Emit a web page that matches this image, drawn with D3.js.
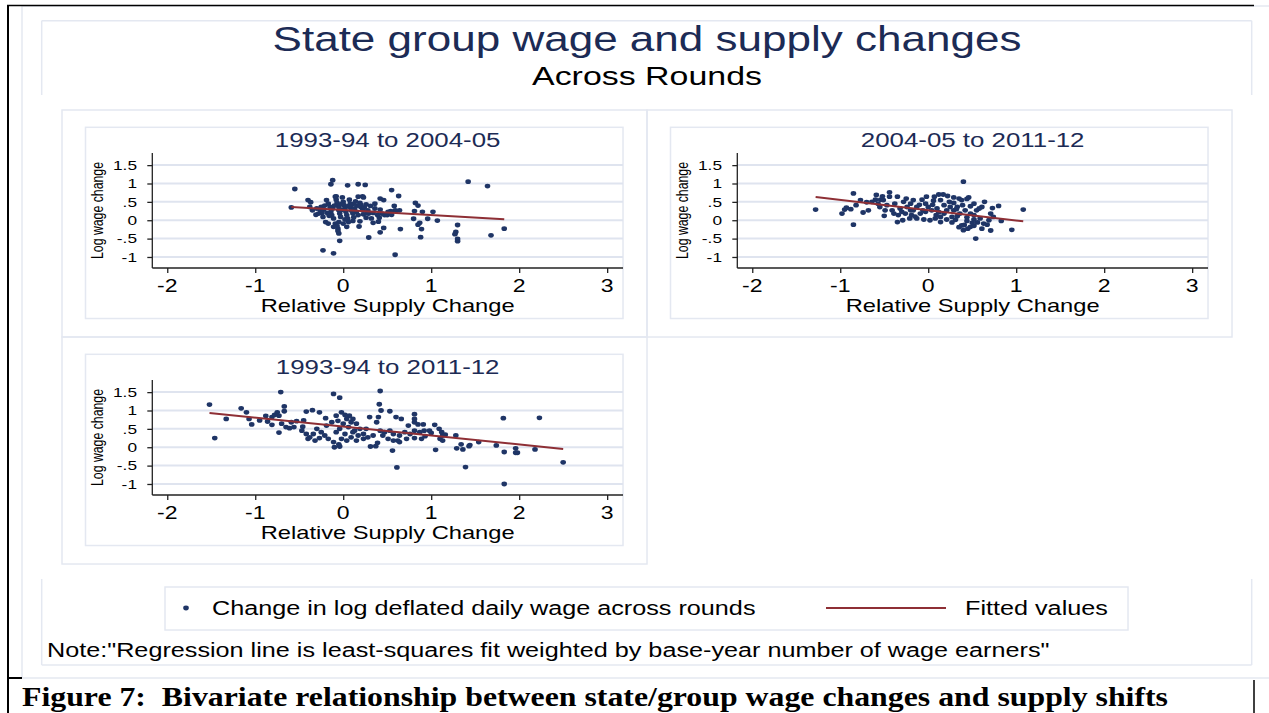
<!DOCTYPE html>
<html>
<head>
<meta charset="utf-8">
<script src="https://cdn.jsdelivr.net/npm/d3@7"></script>
<style>
  body { margin: 0; background: #fff; }
  svg { display: block; font-family: "Liberation Sans", Arial, sans-serif; }
</style>
</head>
<body>
<div id="chart"></div>
<script>
// data: [relative supply change, log wage change]
var panelTitles = ['1993-94 to 2004-05', '2004-05 to 2011-12', '1993-94 to 2011-12'];

var points9305 = [
  [-0.55,0.85],[-0.59,0.35],[-0.12,1.09],[-0.14,0.98],[0.05,0.95],[0.17,0.98],[0.25,0.96],[1.42,1.05],
  [1.64,0.93],[0.55,0.82],[0.63,0.66],[0.42,0.59],[0.46,0.55],[0.22,0.65],[0.23,0.62],[-0.40,0.55],
  [-0.37,0.49],[0.82,0.47],[0.85,0.40],[0.58,0.39],[0.59,0.27],[0.64,0.27],[0.81,0.25],[0.90,0.23],
  [1.02,0.23],[0.80,0.04],[0.96,0.04],[1.07,-0.01],[0.87,-0.07],[0.85,-0.12],[0.89,-0.24],[0.88,-0.46],
  [1.30,-0.13],[1.28,-0.32],[1.27,-0.38],[1.30,-0.51],[1.30,-0.57],[1.68,-0.41],[1.83,-0.23],[0.65,-0.24],
  [0.59,-0.94],[0.46,-0.21],[0.42,-0.33],[0.29,-0.47],[0.18,-0.17],[-0.04,-0.56],[-0.23,-0.82],[-0.11,-0.90],
  [-0.06,-0.29],[-0.06,-0.23],[-0.17,-0.09],[-0.31,0.15],[0.11,-0.02],[0.34,-0.07],[0.40,-0.04],[0.41,0.07],
  [0.32,0.05],[0.50,0.14],[0.55,0.15],[0.44,0.18],[0.36,0.32],[0.31,0.39],[0.42,0.29],[0.54,0.25],
  [0.60,0.25],[0.19,0.47],[0.14,0.51],[0.11,0.44],[0.26,0.43],[-0.25,0.36],[-0.22,0.29],[-0.19,0.55],
  [-0.17,0.45],[-0.15,0.36],[-0.14,0.23],[-0.13,0.14],[-0.11,0.05],[-0.09,0.64],[-0.08,0.56],[-0.07,0.47],
  [-0.05,0.36],[-0.05,0.27],[-0.04,0.18],[-0.03,0.09],[-0.05,-0.05],[-0.01,0.62],[0.00,0.50],[0.01,0.41],
  [0.02,0.32],[0.03,0.23],[0.04,0.14],[0.05,0.05],[0.07,0.56],[0.08,0.36],[0.09,0.27],[0.11,0.18],
  [0.13,0.32],[0.15,0.23],[0.17,0.14],[0.20,0.36],[0.22,0.27],[0.23,0.16],[0.26,0.07],[0.28,0.27],
  [0.29,0.18],[-0.26,0.27],[-0.24,0.20],[-0.30,0.32],[-0.35,0.27],[-0.38,0.36],[-0.20,-0.05],[-0.09,-0.09],
  [0.00,-0.09],[0.06,-0.05],[-0.07,-0.16],[0.19,-0.03],[0.17,0.64],[0.08,0.45],[-0.08,0.65],[0.34,0.20],
  [0.39,0.14],[0.20,0.42],[0.47,0.14],[0.51,0.23],[0.36,0.45],[-0.23,0.09],[-0.28,0.18],[0.04,-0.18],
  [-0.05,-0.36],[-0.11,-0.18],[-0.02,0.44],[0.12,0.08],[-0.12,0.32],[0.24,0.35],[-0.18,0.20],[0.06,0.38],
  [-0.16,0.12],[-0.02,0.28],[0.10,0.26],[-0.10,0.40],[0.16,0.40],[0.27,0.20],[-0.21,0.40],[0.02,0.02]
];

var points0512 = [
  [-1.28,0.29],[-0.85,0.73],[-0.85,-0.12],[-0.98,0.18],[-0.95,0.29],[-0.93,0.34],[-0.88,0.30],[-0.82,0.41],
  [-0.77,0.55],[-0.70,0.49],[-0.74,0.21],[-0.68,0.27],[-0.59,0.69],[-0.54,0.56],[-0.44,0.76],[-0.44,0.64],
  [-0.35,0.64],[-0.50,0.12],[-0.35,-0.05],[-0.29,0.00],[-0.21,0.05],[0.40,1.05],[0.07,0.64],[0.12,0.70],
  [0.17,0.70],[0.22,0.66],[0.29,0.62],[0.46,0.62],[0.44,0.58],[0.64,0.50],[0.80,0.39],[0.73,0.33],
  [0.71,0.18],[0.83,-0.02],[1.08,0.29],[0.95,-0.26],[0.71,-0.28],[0.67,-0.12],[0.54,-0.50],[0.40,-0.27],
  [0.35,-0.19],[0.41,-0.13],[0.48,-0.18],[0.52,-0.15],[0.56,-0.06],[0.27,-0.06],[0.31,0.01],[0.59,0.05],
  [0.52,0.14],[0.55,0.27],[0.61,0.36],[0.52,0.45],[0.48,0.38],[0.42,0.27],[0.36,0.18],[0.33,0.11],
  [0.29,0.47],[0.25,0.36],[0.21,0.27],[0.18,0.18],[0.14,0.09],[0.09,0.14],[0.04,0.27],[0.00,0.36],
  [-0.03,0.45],[-0.06,0.27],[-0.09,0.18],[-0.13,0.36],[-0.17,0.27],[-0.20,0.45],[-0.24,0.36],[-0.28,0.50],
  [-0.32,0.32],[-0.38,0.45],[-0.41,0.27],[-0.47,0.41],[-0.51,0.55],[-0.57,0.45],[-0.60,0.56],[-0.64,0.50],
  [-0.39,0.18],[-0.34,0.14],[-0.26,0.18],[-0.19,0.14],[-0.13,0.05],[-0.05,0.02],[0.02,0.00],[0.08,0.05],
  [0.14,-0.05],[0.21,0.02],[0.27,0.09],[0.44,-0.02],[0.50,-0.07],[0.63,-0.09],[0.69,0.00],[0.74,0.09],
  [0.35,0.59],[0.38,0.55],[0.06,0.53],[0.14,0.55],[-0.07,0.56],[-0.17,0.55],[-0.25,0.59],[-0.52,0.65],
  [-0.02,0.64],[0.29,0.27],[0.33,0.36],[0.39,0.41],[0.18,0.41],[0.10,0.32],[-0.03,0.23],[-0.20,0.27],
  [-0.30,0.23],[-0.49,0.27],[-0.55,0.36],[0.48,0.18],[0.52,0.02],[0.38,-0.14],[0.61,-0.23],[0.45,-0.23],
  [0.05,0.42],[0.24,0.50],[-0.10,0.42],[0.32,0.30],[0.12,0.22],[-0.15,0.10],[0.58,0.32],[0.44,0.08]
];

var points9312 = [
  [-1.52,1.16],[-1.46,0.25],[-1.33,0.77],[-1.16,1.06],[-1.10,0.95],[-1.07,0.77],[-1.04,0.62],[-0.88,0.85],
  [-0.86,0.70],[-0.81,0.82],[-0.78,0.88],[-0.75,0.95],[-0.73,0.86],[-0.71,1.50],[-0.67,1.11],[-0.67,0.98],
  [-0.70,0.64],[-0.73,0.40],[-0.61,0.52],[-0.59,0.68],[-0.56,0.55],[-0.53,0.71],[-0.45,0.73],[-0.46,0.56],
  [-0.42,0.97],[-0.35,1.01],[-0.27,0.95],[-0.20,0.79],[-0.11,1.45],[-0.04,1.35],[0.42,1.53],[0.41,1.17],
  [0.43,1.00],[0.53,0.98],[0.60,0.82],[0.66,0.77],[0.81,0.90],[0.81,0.77],[0.81,0.68],[1.82,0.79],
  [2.23,0.80],[2.50,-0.41],[1.83,-0.13],[1.96,-0.03],[1.96,-0.15],[1.98,-0.15],[2.18,-0.06],[1.74,0.05],
  [1.54,0.14],[1.44,0.06],[1.43,0.03],[1.36,-0.06],[1.34,0.08],[1.29,-0.03],[1.28,0.32],[1.39,-0.54],
  [1.83,-1.00],[0.61,-0.55],[0.56,-0.09],[1.05,-0.07],[1.04,0.61],[1.09,0.50],[1.12,0.41],[1.13,0.32],
  [1.16,0.34],[1.10,0.23],[1.13,0.18],[0.92,0.45],[0.98,0.45],[1.00,0.39],[0.91,0.62],[0.85,0.62],
  [0.81,0.45],[0.81,0.25],[0.76,0.36],[0.70,0.41],[0.64,0.32],[0.62,0.18],[0.64,0.14],[0.57,0.36],
  [0.53,0.45],[0.47,0.41],[0.42,0.45],[0.38,0.68],[0.30,0.82],[0.31,0.02],[0.37,0.03],[0.39,0.12],
  [0.34,0.32],[0.28,0.27],[0.23,0.36],[0.19,0.50],[0.15,0.64],[0.11,0.77],[0.07,0.86],[0.09,0.68],
  [0.04,0.77],[0.00,0.64],[-0.04,0.50],[-0.08,0.41],[-0.10,0.00],[-0.04,0.02],[-0.05,0.08],[-0.11,0.14],
  [-0.17,0.23],[-0.21,0.32],[-0.25,0.41],[-0.30,0.50],[-0.34,0.36],[-0.38,0.27],[-0.32,0.18],[-0.27,0.25],
  [-0.19,0.59],[-0.13,0.68],[-0.08,0.86],[-0.02,0.95],[0.02,0.88],[0.06,0.55],[0.11,0.41],[0.17,0.32],
  [0.02,0.36],[-0.02,0.23],[0.04,0.18],[0.09,0.27],[0.15,0.18],[0.23,0.23],[0.26,0.50],[-0.42,0.36],
  [-0.47,0.45],[-0.40,0.23],[-0.65,0.55],[-0.81,0.61],[-0.95,0.73],[0.74,0.59],[0.72,0.23],[0.87,0.41],
  [0.93,0.30],[0.89,0.23],[0.45,0.32],[0.51,0.23],[0.57,0.18],[0.40,0.82],[0.13,0.45],[-0.06,0.72]
];

// fitted values, end points
var fit9305 = [[-0.59, 0.36], [1.83, 0.03]];
var fit0512 = [[-1.28, 0.63], [1.08, -0.03]];
var fit9312 = [[-1.52, 0.93], [2.50, -0.045]];

var xTicks = [-2, -1, 0, 1, 2, 3];
var yTicks = [1.5, 1, 0.5, 0, -0.5, -1];
var yTickLabels = ['1.5', '1', '.5', '0', '-.5', '-1'];

var mainTitle = 'State group wage and supply changes';
var subTitle = 'Across Rounds';
var xLabel = 'Relative Supply Change';
var yLabel = 'Log wage change';
var legendLabels = ['Change in log deflated daily wage across rounds', 'Fitted values'];
var noteText = 'Note:"Regression line is least-squares fit weighted by base-year number of wage earners"';
var captionText = 'Figure 7:\u00a0 Bivariate relationship between state/group wage changes and supply shifts';

var panelPoints = [points9305, points0512, points9312];
var panelFits = [fit9305, fit0512, fit9312];

// ---- layout ----
var width = 1269, height = 713;
var SX = 1.28;                 // the picture is stretched horizontally
var navy = '#1f3566', maroon = '#8e2f35', faint = '#e4e8f1', grid = '#dfe4ef';
var cellOrigins = [[62, 110], [647, 110], [62, 337]];
var cell = {w: 585, h: 227};
var inner = {x0: 23.5, x1: 561, y0: 17.3, y1: 208.5};
var plot = {x0: 90.3, x1: 561, y0: 43, y1: 158};

var svg = d3.select('#chart').append('svg')
    .attr('width', width)
    .attr('height', height);

function stext(g, x, y, str, size, anchor, color) {
    return g.append('text')
        .attr('transform', 'translate(' + x + ',' + y + ') scale(' + SX + ',1)')
        .attr('text-anchor', anchor)
        .attr('font-size', size)
        .attr('fill', color)
        .text(str);
}

function seg(x1, y1, x2, y2, color, w) {
    svg.append('line')
        .attr('x1', x1).attr('y1', y1).attr('x2', x2).attr('y2', y2)
        .attr('stroke', color).attr('stroke-width', w);
}

// outer faint frame and graph region
seg(22, 6, 1269, 6, faint, 1.5);
seg(22, 6, 22, 678, faint, 1.5);
seg(22, 678, 1269, 678, faint, 1.5);
seg(41.7, 20.7, 1251.7, 20.7, faint, 1.5);
seg(41.7, 665, 1251.7, 665, faint, 1.5);
[41.7, 1251.7].forEach(function(x){
    seg(x, 20.7, x, 95, faint, 1.5);
    seg(x, 579, x, 665, faint, 1.5);
});

// black document borders
seg(7, 5.5, 1254, 5.5, '#000', 1.5);
seg(8, 5, 8, 713, '#000', 2);
seg(8, 678, 22, 678, '#000', 2);
seg(1254, 680, 1254, 713, '#000', 1.5);

// titles
stext(svg, 647, 51, mainTitle, 34.4, 'middle', '#1c2b55');
stext(svg, 647, 85, subTitle, 26.5, 'middle', '#000');

var x = d3.scaleLinear().domain([-2.17, 3.18]).range([plot.x0, plot.x1]);
var y = d3.scaleLinear().domain([-1.3, 1.83]).range([plot.y1, plot.y0]);

function drawPanel(i) {
    var ox = cellOrigins[i][0], oy = cellOrigins[i][1];
    var g = svg.append('g').attr('transform', 'translate(' + ox + ',' + oy + ')');

    g.append('rect')
        .attr('x', 0).attr('y', 0).attr('width', cell.w).attr('height', cell.h)
        .attr('fill', 'none').attr('stroke', faint).attr('stroke-width', 1.5);
    g.append('rect')
        .attr('x', inner.x0).attr('y', inner.y0)
        .attr('width', inner.x1 - inner.x0).attr('height', inner.y1 - inner.y0)
        .attr('fill', 'none').attr('stroke', faint).attr('stroke-width', 1.5);

    // grid lines
    g.selectAll('.grid').data(yTicks).enter().append('line')
        .attr('x1', plot.x0).attr('x2', plot.x1)
        .attr('y1', function(d){ return y(d); })
        .attr('y2', function(d){ return y(d); })
        .attr('stroke', grid).attr('stroke-width', 2);

    // y axis
    var yAxis = d3.axisLeft(y).tickValues(yTicks).tickSize(5).tickFormat('');
    g.append('g').attr('transform', 'translate(' + plot.x0 + ',0)').call(yAxis)
        .call(function(a){
            a.select('.domain').attr('d', 'M0,' + plot.y0 + 'V' + plot.y1).attr('stroke', '#222').attr('stroke-width', 1.3);
            a.selectAll('.tick line').attr('stroke', '#222').attr('stroke-width', 1.3);
        });
    yTicks.forEach(function(t, k){
        stext(g, 75, y(t) + 4.8, yTickLabels[k], 13.5, 'end', '#000');
    });

    // x axis
    var xAxis = d3.axisBottom(x).tickValues(xTicks).tickSize(5).tickFormat('');
    g.append('g').attr('transform', 'translate(0,' + plot.y1 + ')').call(xAxis)
        .call(function(a){
            a.select('.domain').attr('d', 'M' + plot.x0 + ',0H' + plot.x1).attr('stroke', '#222').attr('stroke-width', 1.3);
            a.selectAll('.tick line').attr('stroke', '#222').attr('stroke-width', 1.3);
        });
    xTicks.forEach(function(t){
        stext(g, x(t), 181.5, String(t), 18, 'middle', '#000');
    });

    stext(g, (plot.x0 + plot.x1) / 2, 37, panelTitles[i], 20.2, 'middle', '#1c2b55');
    stext(g, (plot.x0 + plot.x1) / 2, 201.5, xLabel, 18.5, 'middle', '#000');
    g.append('text')
        .attr('transform', 'translate(41,' + ((plot.y0 + plot.y1) / 2) + ') scale(' + SX + ',1) rotate(-90)')
        .attr('text-anchor', 'middle')
        .attr('font-size', 12.3)
        .text(yLabel);

    // points
    g.selectAll('.pt').data(panelPoints[i]).enter().append('ellipse')
        .attr('cx', function(d){ return x(d[0]); })
        .attr('cy', function(d){ return y(d[1]); })
        .attr('rx', 2.8).attr('ry', 2.4)
        .attr('fill', navy);

    // fitted line
    g.append('path')
        .datum(panelFits[i])
        .attr('d', d3.line().x(function(d){ return x(d[0]); }).y(function(d){ return y(d[1]); }))
        .attr('fill', 'none').attr('stroke', maroon).attr('stroke-width', 2);
}

[0, 1, 2].forEach(drawPanel);

// legend
svg.append('rect')
    .attr('x', 165).attr('y', 587).attr('width', 963).attr('height', 43)
    .attr('fill', 'none').attr('stroke', faint).attr('stroke-width', 1.5);
svg.append('ellipse').attr('cx', 186).attr('cy', 608).attr('rx', 2.8).attr('ry', 2.4).attr('fill', navy);
stext(svg, 212, 615, legendLabels[0], 19.7, 'start', '#000');
seg(826, 608, 946, 608, maroon, 2);
stext(svg, 965, 615, legendLabels[1], 19.7, 'start', '#000');

// note
stext(svg, 47, 657, noteText, 19.7, 'start', '#000');

// caption
svg.append('text')
    .attr('x', 22).attr('y', 706)
    .attr('font-family', '"Liberation Serif", "DejaVu Serif", serif')
    .attr('font-weight', 'bold')
    .attr('font-size', 28)
    .attr('textLength', 1146)
    .attr('lengthAdjust', 'spacingAndGlyphs')
    .text(captionText);
</script>
</body>
</html>
